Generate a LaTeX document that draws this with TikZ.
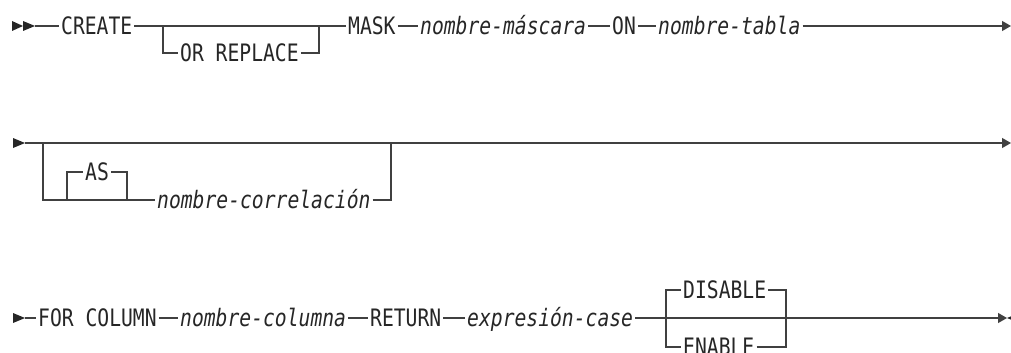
\documentclass[tikz,border=0pt]{standalone}
\usepackage{fontspec}
\newfontfamily\railfont[FakeStretch=0.82]{DejaVu Sans Mono}
\usetikzlibrary{arrows.meta,positioning}

\begin{document}
\begin{tikzpicture}[x=1pt,y=-1pt,
  kw/.style={inner sep=2pt,text height=17pt,text depth=0pt,anchor=west,
    font=\railfont\fontsize{24pt}{28pt}\selectfont,text=black!85},
  var/.style={kw,font=\railfont\itshape\fontsize{24pt}{28pt}\selectfont},
  rail/.style={line width=1.1pt,draw=black!75},
  arr/.style={rail,-{Triangle[length=9pt,width=10pt]}},
  railmark/.style={fill=black!85}
]
\useasboundingbox (0,0) rectangle (1011,353);

% first line
\fill[railmark] (12,21) -- (23,26) -- (12,31) -- cycle;
\fill[railmark] (23,21) -- (35,26) -- (23,31) -- cycle;
\coordinate (s1) at (35,26);
\node[kw] (create) at (59,26) {CREATE};
\node[kw] (orrep) at (178,53) {OR REPLACE};
\node[kw] (mask) at (346,26) {MASK};
\node[var] (mascara) at (418,26) {nombre-máscara};
\node[kw] (on) at (610,26) {ON};
\node[var] (tabla) at (656,26) {nombre-tabla};
\coordinate (orl) at (163,26);
\coordinate (orr) at (319,26);
\coordinate (e1) at (1011,26);

\draw[rail] (s1) -- (create);
\draw[rail] (create) -- (mask);
\draw[rail] (orl) |- (orrep);
\draw[rail] (orrep) -| (orr);
\draw[rail] (mask) -- (mascara);
\draw[rail] (mascara) -- (on);
\draw[rail] (on) -- (tabla);
\draw[arr] (tabla) -- (e1);

% second line
\fill[railmark] (13,138) -- (25,143) -- (13,148) -- cycle;
\coordinate (s2) at (25,143);
\coordinate (e2) at (1011,143);
\coordinate (cl) at (43,143);
\coordinate (cr) at (391,143);
\coordinate (asl) at (67,200);
\coordinate (asr) at (127,200);
\node[kw] (as) at (83,172) {AS};
\node[var] (correl) at (155,200) {nombre-correlación};

\draw[arr] (s2) -- (e2);
\draw[rail] (cl) |- (asl) -- (asr) -- (correl);
\draw[rail] (correl) -| (cr);
\draw[rail] (asl) |- (as);
\draw[rail] (as) -| (asr);

% third line
\fill[railmark] (13,313) -- (25,318) -- (13,323) -- cycle;
\coordinate (s3) at (25,318);
\node[kw] (forcol) at (36,318) {FOR COLUMN};
\node[var] (columna) at (178,318) {nombre-columna};
\node[kw] (return) at (368,318) {RETURN};
\node[var] (exprcase) at (465,318) {expresión-case};
\node[kw] (disable) at (681,290) {DISABLE};
\node[kw] (enable) at (681,347) {ENABLE};
\coordinate (dl) at (666,318);
\coordinate (dr) at (786,318);
\coordinate (e3) at (1007,318);

\draw[rail] (s3) -- (forcol);
\draw[rail] (forcol) -- (columna);
\draw[rail] (columna) -- (return);
\draw[rail] (return) -- (exprcase);
\draw[arr] (exprcase) -- (e3);
\draw[rail] (dl) |- (disable);
\draw[rail] (disable) -| (dr);
\draw[rail] (dl) |- (enable);
\draw[rail] (enable) -| (dr);
\fill[railmark] (1019,313) -- (1007,318) -- (1019,323) -- cycle;
\end{tikzpicture}
\end{document}
